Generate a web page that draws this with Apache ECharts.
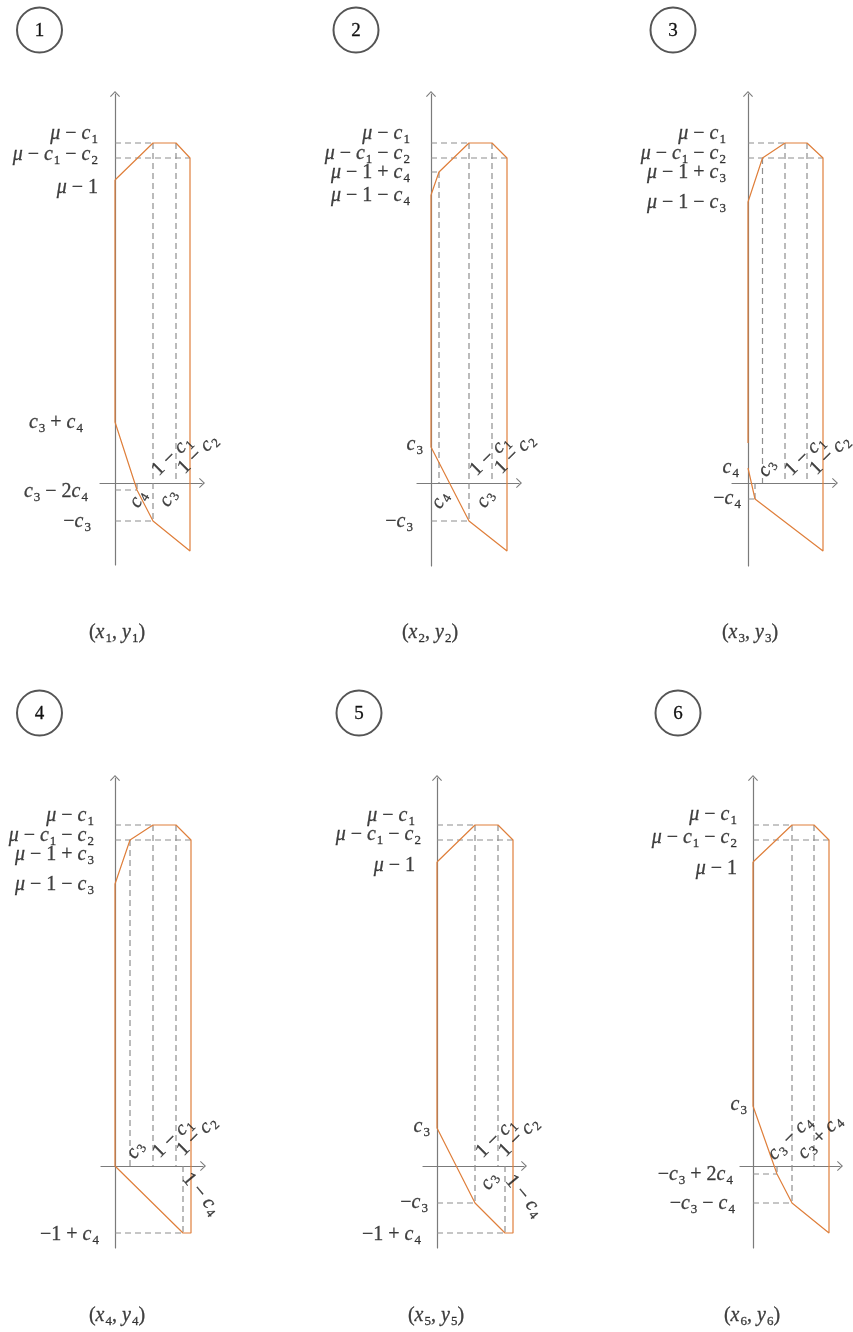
<!DOCTYPE html>
<html>
<head>
<meta charset="utf-8">
<script src="https://cdn.jsdelivr.net/npm/echarts@6/dist/echarts.min.js"></script>
<style>
  html, body { margin: 0; padding: 0; background: #fff; }
  #main { width: 853px; height: 1332px; }
</style>
</head>
<body>
<div id="main"></div>
<script>
// ---------- data: six payoff regions, values in abstract plot units ----------
// Panel 1 : (x1, y1)
const p1Outline = [[0, 30.3], [3.8, 34.0], [6.1, 34.0], [7.5, 32.5], [7.5, -6.8], [3.8, -3.8], [2.2, -0.7], [0, 6.1], [0, 30.3]];
const p1Guides = [[[0, 34.0], [3.8, 34.0]], [[0, 32.5], [7.5, 32.5]], [[3.8, 34.0], [3.8, -3.8]], [[6.1, 34.0], [6.1, 0]], [[0, -0.7], [2.2, -0.7]], [[2.2, 0], [2.2, -0.7]], [[0, -3.8], [3.8, -3.8]]];
const p1YTicks = ['μ − c_1', 'μ − c_1 − c_2', 'μ − 1', 'c_3 + c_4', 'c_3 − 2c_4', '−c_3'];
const p1YValues = [34.0, 32.5, 30.3, 6.1, -0.7, -3.8];
const p1XTicks = ['c_4', 'c_3', '1 − c_1', '1 − c_2'];
const p1XValues = [2.2, 3.8, 6.1, 7.5];

// Panel 2 : (x2, y2)
const p2Outline = [[0, 28.8], [0.8, 31.1], [3.8, 34.0], [6.1, 34.0], [7.6, 32.5], [7.6, -6.8], [3.8, -3.8], [0, 3.6], [0, 28.8]];
const p2Guides = [[[0, 34.0], [3.8, 34.0]], [[0, 32.5], [7.6, 32.5]], [[0, 31.1], [0.8, 31.1]], [[0.8, 31.1], [0.8, 0]], [[3.8, 34.0], [3.8, -3.8]], [[6.1, 34.0], [6.1, 0]], [[0, -3.8], [3.8, -3.8]]];
const p2YTicks = ['μ − c_1', 'μ − c_1 − c_2', 'μ − 1 + c_4', 'μ − 1 − c_4', 'c_3', '−c_3'];
const p2YValues = [34.0, 32.5, 31.1, 28.8, 3.6, -3.8];
const p2XTicks = ['c_4', 'c_3', '1 − c_1', '1 − c_2'];
const p2XValues = [0.8, 3.8, 6.1, 7.6];

// Panel 3 : (x3, y3)
const p3Outline = [[0, 4.0], [0, 28.1], [1.45, 32.5], [3.7, 34.0], [5.9, 34.0], [7.5, 32.5], [7.5, -6.8], [0.7, -1.6], [0, 1.5]];
const p3Guides = [[[0, 34.0], [3.7, 34.0]], [[0, 32.5], [7.5, 32.5]], [[1.45, 32.5], [1.45, 0]], [[3.7, 34.0], [3.7, 0]], [[5.9, 34.0], [5.9, 0]], [[0, -1.6], [0.7, -1.6]], [[0.7, 0], [0.7, -1.6]]];
const p3YTicks = ['μ − c_1', 'μ − c_1 − c_2', 'μ − 1 + c_3', 'μ − 1 − c_3', 'c_4', '−c_4'];
const p3YValues = [34.0, 32.5, 31.0, 28.1, 1.5, -1.6];
const p3XTicks = ['c_3', '1 − c_1', '1 − c_2'];
const p3XValues = [1.45, 5.9, 7.5];

// Panel 4 : (x4, y4)
const p4Outline = [[0, 0], [0, 28.2], [1.5, 32.6], [3.8, 34.1], [6.1, 34.1], [7.6, 32.6], [7.6, -6.7], [6.8, -6.7], [0, 0]];
const p4Guides = [[[0, 34.1], [3.8, 34.1]], [[0, 32.6], [7.6, 32.6]], [[1.5, 32.6], [1.5, 0]], [[3.8, 34.1], [3.8, 0]], [[6.1, 34.1], [6.1, 0]], [[6.8, 0], [6.8, -6.7]], [[0, -6.7], [6.8, -6.7]]];
const p4YTicks = ['μ − c_1', 'μ − c_1 − c_2', 'μ − 1 + c_3', 'μ − 1 − c_3', '−1 + c_4'];
const p4YValues = [34.1, 32.6, 31.1, 28.2, -6.7];
const p4XTicks = ['c_3', '1 − c_1', '1 − c_2', '1 − c_4'];
const p4XValues = [1.5, 6.1, 7.6, 6.8];

// Panel 5 : (x5, y5)
const p5Outline = [[0, 30.4], [3.8, 34.1], [6.1, 34.1], [7.6, 32.6], [7.6, -6.7], [6.8, -6.7], [3.8, -3.7], [0, 3.8], [0, 30.4]];
const p5Guides = [[[0, 34.1], [3.8, 34.1]], [[0, 32.6], [7.6, 32.6]], [[3.8, 34.1], [3.8, -3.7]], [[6.1, 34.1], [6.1, 0]], [[6.8, 0], [6.8, -6.7]], [[0, -3.7], [3.8, -3.7]], [[0, -6.7], [6.8, -6.7]]];
const p5YTicks = ['μ − c_1', 'μ − c_1 − c_2', 'μ − 1', 'c_3', '−c_3', '−1 + c_4'];
const p5YValues = [34.1, 32.6, 30.4, 3.8, -3.7, -6.7];
const p5XTicks = ['c_3', '1 − c_1', '1 − c_2', '1 − c_4'];
const p5XValues = [3.8, 6.1, 7.6, 6.8];

// Panel 6 : (x6, y6)
const p6Outline = [[0, 30.4], [3.9, 34.1], [6.1, 34.1], [7.6, 32.6], [7.6, -6.7], [3.9, -3.7], [2.4, -0.8], [0, 6.0], [0, 30.4]];
const p6Guides = [[[0, 34.1], [3.9, 34.1]], [[0, 32.6], [7.6, 32.6]], [[3.9, 34.1], [3.9, -3.7]], [[6.1, 34.1], [6.1, 0]], [[0, -0.8], [2.4, -0.8]], [[2.4, 0], [2.4, -0.8]], [[0, -3.7], [3.9, -3.7]]];
const p6YTicks = ['μ − c_1', 'μ − c_1 − c_2', 'μ − 1', 'c_3', '−c_3 + 2c_4', '−c_3 − c_4'];
const p6YValues = [34.1, 32.6, 30.4, 6.0, -0.8, -3.7];
const p6XTicks = ['c_3 − c_4', 'c_3 + c_4'];
const p6XValues = [3.9, 6.1];

const captions = ['(x_1, y_1)', '(x_2, y_2)', '(x_3, y_3)', '(x_4, y_4)', '(x_5, y_5)', '(x_6, y_6)'];
const panelNumbers = ['1', '2', '3', '4', '5', '6'];

// ---------- layout ----------
const PX = 10; // pixels per plot unit, both directions
// origin of each panel on the page and the visible axis ranges
const frames = [
  { ox: 115, oy: 483, xmin: -1.5, xmax: 8.7, ymin: -8.2, ymax: 38.9 },
  { ox: 431, oy: 483, xmin: -1.4, xmax: 8.8, ymin: -8.3, ymax: 38.9 },
  { ox: 748, oy: 483, xmin: -1.6, xmax: 8.7, ymin: -8.3, ymax: 38.9 },
  { ox: 115, oy: 1166, xmin: -1.4, xmax: 8.8, ymin: -8.2, ymax: 38.8 },
  { ox: 437, oy: 1166, xmin: -1.4, xmax: 8.7, ymin: -8.2, ymax: 38.8 },
  { ox: 753, oy: 1166, xmin: -1.3, xmax: 8.7, ymin: -8.2, ymax: 38.8 }
];
// label nudges in px: y labels [right edge from axis, centre from tick]; x labels [dx, dy, rotation]
const yNudges = [
  [[-17, -9], [-17, -3], [-17, 8], [-32, 1], [-27, 2], [-24, 1]],
  [[-21, -9], [-21, -4], [-21, 1], [-21, 1], [-8, -2], [-18, 1]],
  [[-22, -9], [-22, -4], [-22, 0], [-22, 1], [-9, 0], [-7, 0]],
  [[-21, -9], [-21, -4], [-21, 0], [-21, 1], [-16, 2]],
  [[-22, -9], [-16, -5], [-22, 4], [-7, -1], [-9, 0], [-16, 2]],
  [[-16, -10], [-16, -2], [-16, 7], [-6, -1], [-20, 1], [-18, 1]]
];
const xNudges = [
  [[1, 16, 60], [15, 15, 60], [-4, -27, 45], [8, -29, 45]],
  [[1, 17, 60], [16, 16, 60], [-2, -27, 45], [8, -29, 45]],
  [[4, -15, 60], [-2, -27, 45], [7, -28, 45]],
  [[5, -16, 60], [-3, -28, 45], [6, -30, 45], [18, 28, -50]],
  [[14, 15, 60], [-2, -28, 45], [6, -29, 45], [19, 30, -50]],
  [[-2, -28, 45], [6, -29, 45]]
];
const captionPos = [[117, 633], [430, 633], [750, 633], [117, 1316], [436, 1316], [752, 1316]];
const circlePos = [[39.5, 30], [356, 30], [673, 30], [39.5, 713], [359, 713], [678, 713]];

// ---------- styles ----------
const INK = '#111111';
const AXIS = '#7b7b7b';
const GUIDE = '#8e8e8e';
const ORANGE = '#DF7F3B';
const SERIF = '"Liberation Serif", "DejaVu Serif", serif';
const ARROW = 'path://M5,0 L10,5.3 L9.2,6 L5,1.6 L0.8,6 L0,5.3 Z';
const INKED = { color: INK, textBorderColor: INK, textBorderWidth: 0.3 };
const RICH = {
  v: Object.assign({ fontFamily: SERIF, fontStyle: 'italic', fontSize: 20, lineHeight: 24 }, INKED),
  n: Object.assign({ fontFamily: SERIF, fontSize: 20, lineHeight: 24 }, INKED),
  o: Object.assign({ fontFamily: SERIF, fontSize: 20, lineHeight: 24, padding: [0, 5, 0, 5] }, INKED),
  s: Object.assign({ fontFamily: SERIF, fontSize: 13, lineHeight: 13, padding: [11, 0, 0, 1] }, INKED)
};

// turn "μ − c_1" into rich text: italic letters, spaced binary operators, subscript digits
function toRich(s) {
  const parts = [];
  let i = 0;
  while (i < s.length) {
    if (s.startsWith(' − ', i) || s.startsWith(' + ', i)) { parts.push('{o|' + s[i + 1] + '}'); i += 3; continue; }
    const ch = s[i];
    if (ch === '_') { parts.push('{s|' + s[i + 1] + '}'); i += 2; continue; }
    if (/[a-zμ]/.test(ch)) { parts.push('{v|' + ch + '}'); i++; continue; }
    parts.push('{n|' + ch + '}');
    i++;
  }
  return parts.join('');
}

const panels = [
  { outline: p1Outline, guides: p1Guides, yText: p1YTicks, yVal: p1YValues, xText: p1XTicks, xVal: p1XValues },
  { outline: p2Outline, guides: p2Guides, yText: p2YTicks, yVal: p2YValues, xText: p2XTicks, xVal: p2XValues },
  { outline: p3Outline, guides: p3Guides, yText: p3YTicks, yVal: p3YValues, xText: p3XTicks, xVal: p3XValues },
  { outline: p4Outline, guides: p4Guides, yText: p4YTicks, yVal: p4YValues, xText: p4XTicks, xVal: p4XValues },
  { outline: p5Outline, guides: p5Guides, yText: p5YTicks, yVal: p5YValues, xText: p5XTicks, xVal: p5XValues },
  { outline: p6Outline, guides: p6Guides, yText: p6YTicks, yVal: p6YValues, xText: p6XTicks, xVal: p6XValues }
];

const option = {
  animation: false,
  backgroundColor: '#ffffff',
  grid: [], xAxis: [], yAxis: [], series: [], graphic: []
};

panels.forEach(function (p, i) {
  const f = frames[i];
  option.grid.push({
    left: f.ox + f.xmin * PX,
    top: f.oy - f.ymax * PX,
    width: (f.xmax - f.xmin) * PX,
    height: (f.ymax - f.ymin) * PX
  });
  const axisBase = {
    type: 'value', gridIndex: i,
    axisLine: { show: true, onZero: true, symbol: ['none', ARROW], symbolSize: [11, 6], lineStyle: { color: AXIS, width: 1.2 } },
    axisTick: { show: false }, axisLabel: { show: false }, splitLine: { show: false }
  };
  option.xAxis.push(Object.assign({}, axisBase, { min: f.xmin, max: f.xmax }));
  option.yAxis.push(Object.assign({}, axisBase, { min: f.ymin, max: f.ymax }));

  // dashed guide lines
  p.guides.forEach(function (g) {
    option.series.push({
      type: 'line', xAxisIndex: i, yAxisIndex: i, data: g, symbol: 'none', silent: true, z: 1,
      lineStyle: { color: GUIDE, width: 1.2, type: [6, 4] }
    });
  });
  // region outline
  option.series.push({
    type: 'line', xAxisIndex: i, yAxisIndex: i, data: p.outline, symbol: 'none', silent: true, z: 3,
    lineStyle: { color: ORANGE, width: 1.2 }
  });
  // tick labels and the panel caption
  const labels = [];
  p.yText.forEach(function (t, k) {
    const n = yNudges[i][k];
    labels.push({ value: [n[0] / PX, p.yVal[k] - n[1] / PX], label: { formatter: toRich(t), align: 'right' } });
  });
  p.xText.forEach(function (t, k) {
    const n = xNudges[i][k];
    labels.push({ value: [p.xVal[k] + n[0] / PX, -n[1] / PX], label: { formatter: toRich(t), align: 'center', rotate: n[2] } });
  });
  labels.push({
    value: [(captionPos[i][0] - f.ox) / PX, (f.oy - captionPos[i][1]) / PX],
    label: { formatter: toRich(captions[i]), align: 'center' }
  });
  option.series.push({
    type: 'scatter', xAxisIndex: i, yAxisIndex: i, data: labels, symbolSize: 1, clip: false, silent: true, z: 4,
    itemStyle: { color: 'rgba(0,0,0,0)' },
    label: { show: true, position: 'inside', verticalAlign: 'middle', rich: RICH }
  });

  // panel number in a circle
  option.graphic.push({
    type: 'circle', shape: { cx: circlePos[i][0], cy: circlePos[i][1], r: 22.5 },
    style: { fill: '#fff', stroke: '#555', lineWidth: 2 }
  });
  option.graphic.push({
    type: 'text', x: circlePos[i][0], y: circlePos[i][1] + 1,
    style: { text: panelNumbers[i], font: '19px ' + SERIF, fill: INK, stroke: INK, lineWidth: 0.3, align: 'center', verticalAlign: 'middle' }
  });
});

const chart = echarts.init(document.getElementById('main'), null, { renderer: 'canvas' });
chart.setOption(option);
</script>
</body>
</html>
